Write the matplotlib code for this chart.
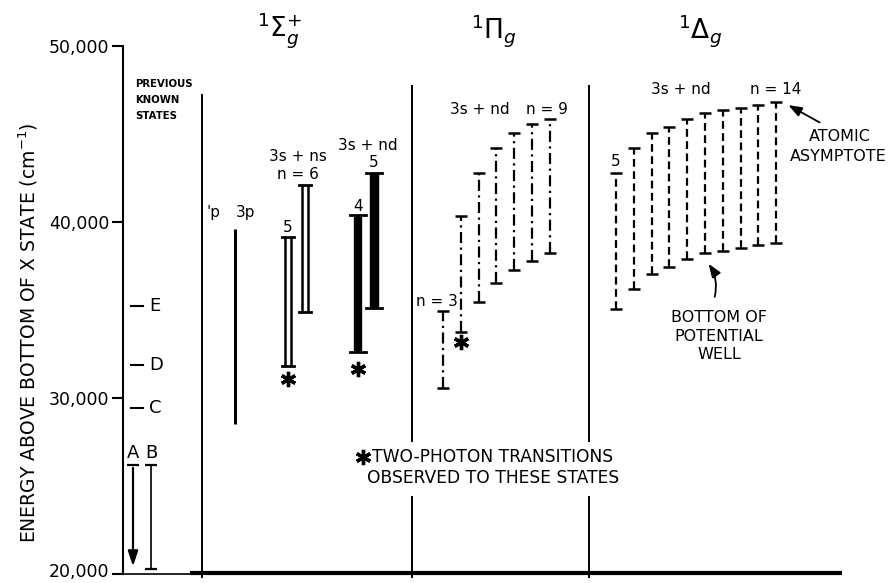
import matplotlib
matplotlib.use("Agg")
import matplotlib.pyplot as plt
import matplotlib.transforms as mtransforms
import numpy as np

plt.rcParams['font.family'] = ['DejaVu Sans']
plt.rcParams['mathtext.fontset'] = 'dejavusans'

# ---------------- data (energies in cm^-1) ----------------
yticks = [20000, 30000, 40000, 50000]
ytick_labels = ["20,000", "30,000", "40,000", "50,000"]

prev_names = ["E", "D", "C"]
prev_levels = [35200, 31850, 29420]
ab_top = 26190
b_bottom = 20300
a_tip = 20280

sigma_p_range = [28500, 39600]                 # 3p
sigma_ns_n = [5, 6]
sigma_ns_lo = [31800, 34860]
sigma_ns_hi = [39120, 42120]
sigma_nd_n = [4, 5]
sigma_nd_lo = [32590, 35090]
sigma_nd_hi = [40400, 42800]

pi_n = [3, 4, 5, 6, 7, 8, 9]
pi_lo = [30550, 33730, 35430, 36560, 37300, 37810, 38260]
pi_hi = [34920, 40360, 42800, 44220, 45070, 45580, 45870]

delta_n = [5, 6, 7, 8, 9, 10, 11, 12, 13, 14]
delta_lo = [35030, 36170, 37070, 37470, 37920, 38260, 38380, 38550, 38720, 38830]
delta_hi = [42800, 44220, 45070, 45410, 45870, 46210, 46380, 46490, 46660, 46830]

# two-photon observed states (energy of marker)
tp_sigma_ns = 31060
tp_sigma_nd = 31630
tp_pi = 33160

# ---------------- layout ----------------
fig = plt.figure(figsize=(8.93, 5.83), dpi=100)
ax = fig.add_axes([123/893, 9/583, 770/893, 528/583])
ax.set_xlim(123, 893)
ax.set_ylim(20000, 50000)

for s in ['top', 'right']:
    ax.spines[s].set_visible(False)
ax.spines['left'].set_linewidth(1.5)
ax.spines['bottom'].set_linewidth(1.2)
ax.spines['bottom'].set_bounds(123, 190)
ax.set_xticks([])
ax.set_yticks(yticks)
ax.set_yticklabels(ytick_labels, fontsize=12.5)
ax.tick_params(axis='y', length=8, width=1.5, direction='out', pad=2)
ylabs = ax.get_yticklabels()
for lab in ylabs:
    lab.set_verticalalignment('center_baseline')
ylabs[0].set_transform(ylabs[0].get_transform() +
                       mtransforms.ScaledTranslation(0, 4/100, fig.dpi_scale_trans))

fig.text(28/893, 1 - 333/583, "ENERGY ABOVE BOTTOM OF X STATE (cm$^{-1}$)",
         rotation=90, ha='center', va='center', fontsize=13.5)

# thick baseline and panel dividers
ax.plot([190, 842], [20060, 20060], color='k', lw=3, clip_on=False, solid_capstyle='butt')
ax.plot([202, 202], [47230, 19830], color='k', lw=1.4, clip_on=False)
for xd in [412, 589]:
    ax.plot([xd, xd], [47740, 27540], color='k', lw=1.4, clip_on=False)
    ax.plot([xd, xd], [24370, 19830], color='k', lw=1.4, clip_on=False)

# titles
ax.text(280, 50900, r"$^{1}\Sigma_{g}^{+}$", fontsize=19, ha='center', va='center', clip_on=False)
ax.text(494, 50900, r"$^{1}\Pi_{g}$", fontsize=19, ha='center', va='center', clip_on=False)
ax.text(700, 50900, r"$^{1}\Delta_{g}$", fontsize=19, ha='center', va='center', clip_on=False)

# ---------------- previous known states ----------------
for i, t in enumerate(["PREVIOUS", "KNOWN", "STATES"]):
    ax.text(135, 47850 - i * 910, t, fontsize=7.3, ha='left', va='center', fontweight='bold')
for name, lev in zip(prev_names, prev_levels):
    ax.plot([131, 143], [lev, lev], color='k', lw=1.5)
    ax.text(149, lev, name, fontsize=13, ha='left', va='center')
ax.text(133, 26900, "A", fontsize=13, ha='center', va='center')
ax.text(151, 26900, "B", fontsize=13, ha='center', va='center')
ax.annotate("", xy=(133, a_tip), xytext=(133, ab_top),
            arrowprops=dict(arrowstyle='-|>,head_width=0.3,head_length=0.9', color='k', lw=1.6))
ax.plot([133], [ab_top], marker='_', ms=8, mew=1.6, color='k')
ax.plot([151, 151], [b_bottom, ab_top], color='k', lw=1.2, marker='_', ms=8, mew=1.6)

# ---------------- Sigma panel ----------------
ax.text(214, 40530, "'p", fontsize=11, ha='center', va='center')
ax.text(246, 40530, "3p", fontsize=11, ha='center', va='center')
ax.plot([235, 235], sigma_p_range, color='k', lw=2.2, solid_capstyle='butt')

sig_ns_x = [288, 305]
for xc, lo, hi in zip(sig_ns_x, sigma_ns_lo, sigma_ns_hi):
    for dx in (-3.0, 3.0):
        ax.plot([xc + dx, xc + dx], [lo, hi], color='k', lw=1.8, solid_capstyle='butt')
    ax.plot([xc - 6, xc + 6], [lo, lo], color='k', lw=2)
    ax.plot([xc - 6, xc + 6], [hi, hi], color='k', lw=2)
ax.text(sig_ns_x[0], sigma_ns_hi[0] + 120, str(sigma_ns_n[0]), fontsize=11, ha='center', va='bottom')
ax.text(298, 43710, "3s + ns", fontsize=11, ha='center', va='center')
ax.text(298, 42690, "n = %d" % sigma_ns_n[1], fontsize=11, ha='center', va='center')

sig_nd_x = [358, 374]
sig_nd_lw = [6, 6.8]
for xc, lo, hi, lw in zip(sig_nd_x, sigma_nd_lo, sigma_nd_hi, sig_nd_lw):
    ax.plot([xc, xc], [lo, hi], color='k', lw=lw, solid_capstyle='butt')
    ax.plot([xc - 8, xc + 8], [lo, lo], color='k', lw=2)
    ax.plot([xc - 8, xc + 8], [hi, hi], color='k', lw=2)
ax.text(sig_nd_x[0], sigma_nd_hi[0] + 60, str(sigma_nd_n[0]), fontsize=11, ha='center', va='bottom')
ax.text(sig_nd_x[1], 43370, str(sigma_nd_n[1]), fontsize=11, ha='center', va='center')
ax.text(368, 44334, "3s + nd", fontsize=11, ha='center', va='center')

# ---------------- Pi panel ----------------
pi_x = 443 + 17.8 * np.arange(len(pi_n))
for xc, lo, hi in zip(pi_x, pi_lo, pi_hi):
    ax.plot([xc, xc], [lo, hi], color='k', lw=1.6, linestyle=(0, (5, 2, 1, 2)))
    ax.plot([xc, xc], [lo, hi], color='k', lw=0, marker='_', ms=8, mew=1.8)
ax.text(437, 35485, "n = %d" % pi_n[0], fontsize=11, ha='center', va='center')
ax.text(480, 46375, "3s + nd", fontsize=11, ha='center', va='center')
ax.text(547, 46375, "n = %d" % pi_n[-1], fontsize=11, ha='center', va='center')

# ---------------- Delta panel ----------------
de_x = 616 + 17.8 * np.arange(len(delta_n))
for xc, lo, hi in zip(de_x, delta_lo, delta_hi):
    ax.plot([xc, xc], [lo, hi], color='k', lw=1.6, linestyle=(0, (3.5, 2)))
    ax.plot([xc, xc], [lo, hi], color='k', lw=0, marker='_', ms=8, mew=1.8)
ax.text(de_x[0], 43430, str(delta_n[0]), fontsize=11, ha='center', va='center')
ax.text(681, 47510, "3s + nd", fontsize=11, ha='center', va='center')
ax.text(776, 47510, "n = %d" % delta_n[-1], fontsize=11, ha='center', va='center')

ax.text(840, 44844, "ATOMIC", fontsize=11.5, ha='center', va='center')
ax.text(838, 43710, "ASYMPTOTE", fontsize=11.5, ha='center', va='center')
ax.annotate("", xy=(786, 46716), xytext=(822, 45581),
            arrowprops=dict(arrowstyle='-|>,head_width=0.3,head_length=0.8', color='k', lw=1.3))
ax.text(719, 34578, "BOTTOM OF", fontsize=11.5, ha='center', va='center')
ax.text(719, 33500, "POTENTIAL", fontsize=11.5, ha='center', va='center')
ax.text(719, 32479, "WELL", fontsize=11.5, ha='center', va='center')
ax.annotate("", xy=(707, 37753), xytext=(714, 35598),
            arrowprops=dict(arrowstyle='-|>,head_width=0.3,head_length=0.8', color='k', lw=1.3,
                            connectionstyle='arc3,rad=0.25'))

# ---------------- two-photon markers ----------------
star = dict(marker=(6, 2, 0), ms=11, mew=2.4, color='k', lw=0)
ax.plot([sig_ns_x[0]], [tp_sigma_ns], **star)
ax.plot([sig_nd_x[0]], [tp_sigma_nd], **star)
ax.plot([pi_x[1]], [tp_pi], **star)
ax.plot([363], [26636], **star)
ax.text(372, 26636, "TWO-PHOTON TRANSITIONS", fontsize=12.3, ha='left', va='center')
ax.text(493, 25445, "OBSERVED TO THESE STATES", fontsize=12.3, ha='center', va='center')

fig.savefig("out.png", dpi=100)
